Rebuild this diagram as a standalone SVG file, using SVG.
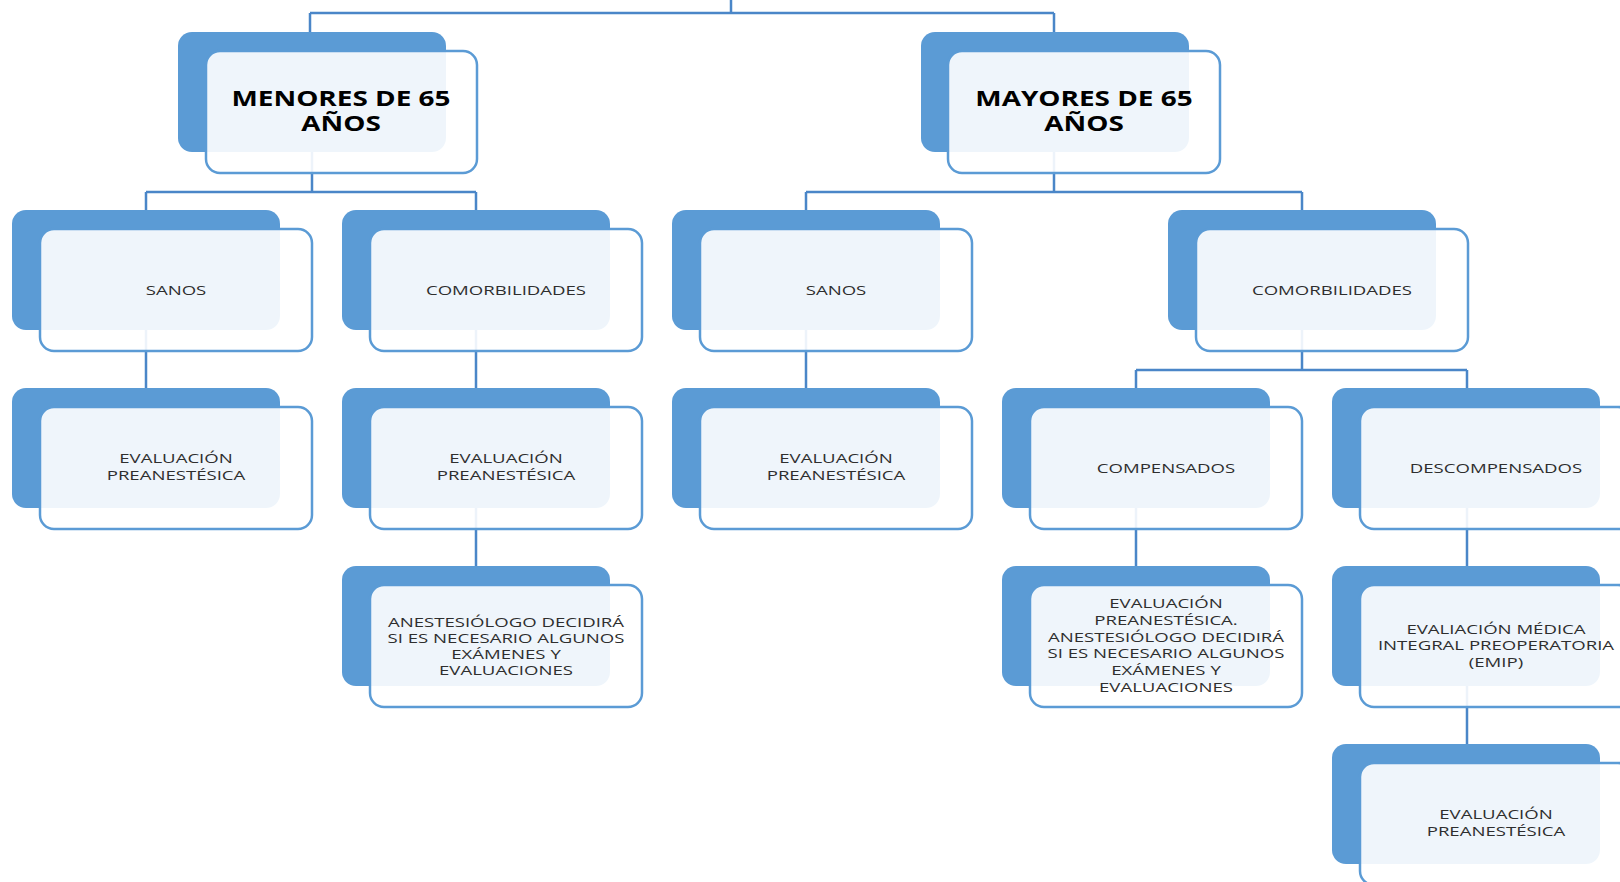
<svg xmlns="http://www.w3.org/2000/svg" width="1620" height="882" viewBox="0 0 1620 882">
<style>
.back{fill:#5B9BD5}
.front{fill:#ffffff;fill-opacity:0.9;stroke:#5B9BD5;stroke-width:2.5}
.conn{stroke:#4A86C8;stroke-width:2.5;fill:none}
.t1{font-family:"Open Sans","Liberation Sans",sans-serif;font-weight:bold;font-size:21px;fill:#000;text-anchor:middle}
.t2{font-family:"Open Sans","Liberation Sans",sans-serif;font-size:13px;fill:#2e2e2e;text-anchor:middle}
</style>
<rect width="1620" height="882" fill="#ffffff"/>
<g id="connectors" class="conn">
<path d="M731 0V13M310 13H1054M310 13V32M1054 13V32"/>
<path d="M312 152V192M146 192H476M146 192V210M476 192V210"/>
<path d="M1054 152V192M806 192H1302M806 192V210M1302 192V210"/>
<path d="M146 330V388M476 330V388M806 330V388"/>
<path d="M1302 330V370M1136 370H1467M1136 370V388M1467 370V388"/>
<path d="M476 508V566M1136 508V566M1467 508V566M1467 686V744"/>
</g>
<g id="n-menores">
<rect class="back" x="178" y="32" width="268" height="120" rx="14"/>
<rect class="front" x="206" y="51" width="271" height="122" rx="14"/>
<text class="t1" transform="translate(341,0) scale(1.33,1)"><tspan x="0" y="106">MENORES DE 65</tspan><tspan x="0" y="131">AÑOS</tspan></text>
</g>
<g id="n-mayores">
<rect class="back" x="921" y="32" width="268" height="120" rx="14"/>
<rect class="front" x="948" y="51" width="272" height="122" rx="14"/>
<text class="t1" transform="translate(1084,0) scale(1.33,1)"><tspan x="0" y="106">MAYORES DE 65</tspan><tspan x="0" y="131">AÑOS</tspan></text>
</g>
<g id="n-sanos-1">
<rect class="back" x="12" y="210" width="268" height="120" rx="14"/>
<rect class="front" x="40" y="229" width="272" height="122" rx="14"/>
<text class="t2" transform="translate(176,0) scale(1.43,1)"><tspan x="0" y="295">SANOS</tspan></text>
</g>
<g id="n-comorb-1">
<rect class="back" x="342" y="210" width="268" height="120" rx="14"/>
<rect class="front" x="370" y="229" width="272" height="122" rx="14"/>
<text class="t2" transform="translate(506,0) scale(1.43,1)"><tspan x="0" y="295">COMORBILIDADES</tspan></text>
</g>
<g id="n-sanos-2">
<rect class="back" x="672" y="210" width="268" height="120" rx="14"/>
<rect class="front" x="700" y="229" width="272" height="122" rx="14"/>
<text class="t2" transform="translate(836,0) scale(1.43,1)"><tspan x="0" y="295">SANOS</tspan></text>
</g>
<g id="n-comorb-2">
<rect class="back" x="1168" y="210" width="268" height="120" rx="14"/>
<rect class="front" x="1196" y="229" width="272" height="122" rx="14"/>
<text class="t2" transform="translate(1332,0) scale(1.43,1)"><tspan x="0" y="295">COMORBILIDADES</tspan></text>
</g>
<g id="n-eval-1">
<rect class="back" x="12" y="388" width="268" height="120" rx="14"/>
<rect class="front" x="40" y="407" width="272" height="122" rx="14"/>
<text class="t2" transform="translate(176,0) scale(1.43,1)"><tspan x="0" y="463">EVALUACIÓN</tspan><tspan x="0" y="480">PREANESTÉSICA</tspan></text>
</g>
<g id="n-eval-2">
<rect class="back" x="342" y="388" width="268" height="120" rx="14"/>
<rect class="front" x="370" y="407" width="272" height="122" rx="14"/>
<text class="t2" transform="translate(506,0) scale(1.43,1)"><tspan x="0" y="463">EVALUACIÓN</tspan><tspan x="0" y="480">PREANESTÉSICA</tspan></text>
</g>
<g id="n-eval-3">
<rect class="back" x="672" y="388" width="268" height="120" rx="14"/>
<rect class="front" x="700" y="407" width="272" height="122" rx="14"/>
<text class="t2" transform="translate(836,0) scale(1.43,1)"><tspan x="0" y="463">EVALUACIÓN</tspan><tspan x="0" y="480">PREANESTÉSICA</tspan></text>
</g>
<g id="n-compensados">
<rect class="back" x="1002" y="388" width="268" height="120" rx="14"/>
<rect class="front" x="1030" y="407" width="272" height="122" rx="14"/>
<text class="t2" transform="translate(1166,0) scale(1.43,1)"><tspan x="0" y="473">COMPENSADOS</tspan></text>
</g>
<g id="n-descompensados">
<rect class="back" x="1332" y="388" width="268" height="120" rx="14"/>
<rect class="front" x="1360" y="407" width="272" height="122" rx="14"/>
<text class="t2" transform="translate(1496,0) scale(1.43,1)"><tspan x="0" y="473">DESCOMPENSADOS</tspan></text>
</g>
<g id="n-anest">
<rect class="back" x="342" y="566" width="268" height="120" rx="14"/>
<rect class="front" x="370" y="585" width="272" height="122" rx="14"/>
<text class="t2" transform="translate(506,0) scale(1.43,1)"><tspan x="0" y="627">ANESTESIÓLOGO DECIDIRÁ</tspan><tspan x="0" y="643">SI ES NECESARIO ALGUNOS</tspan><tspan x="0" y="659">EXÁMENES Y</tspan><tspan x="0" y="675">EVALUACIONES</tspan></text>
</g>
<g id="n-eval-anest">
<rect class="back" x="1002" y="566" width="268" height="120" rx="14"/>
<rect class="front" x="1030" y="585" width="272" height="122" rx="14"/>
<text class="t2" transform="translate(1166,0) scale(1.43,1)"><tspan x="0" y="608">EVALUACIÓN</tspan><tspan x="0" y="625">PREANESTÉSICA.</tspan><tspan x="0" y="642">ANESTESIÓLOGO DECIDIRÁ</tspan><tspan x="0" y="658">SI ES NECESARIO ALGUNOS</tspan><tspan x="0" y="675">EXÁMENES Y</tspan><tspan x="0" y="692">EVALUACIONES</tspan></text>
</g>
<g id="n-emip">
<rect class="back" x="1332" y="566" width="268" height="120" rx="14"/>
<rect class="front" x="1360" y="585" width="272" height="122" rx="14"/>
<text class="t2" transform="translate(1496,0) scale(1.43,1)"><tspan x="0" y="634">EVALIACIÓN MÉDICA</tspan><tspan x="0" y="650">INTEGRAL PREOPERATORIA</tspan><tspan x="0" y="667">(EMIP)</tspan></text>
</g>
<g id="n-eval-4">
<rect class="back" x="1332" y="744" width="268" height="120" rx="14"/>
<rect class="front" x="1360" y="763" width="272" height="122" rx="14"/>
<text class="t2" transform="translate(1496,0) scale(1.43,1)"><tspan x="0" y="819">EVALUACIÓN</tspan><tspan x="0" y="836">PREANESTÉSICA</tspan></text>
</g>
</svg>
